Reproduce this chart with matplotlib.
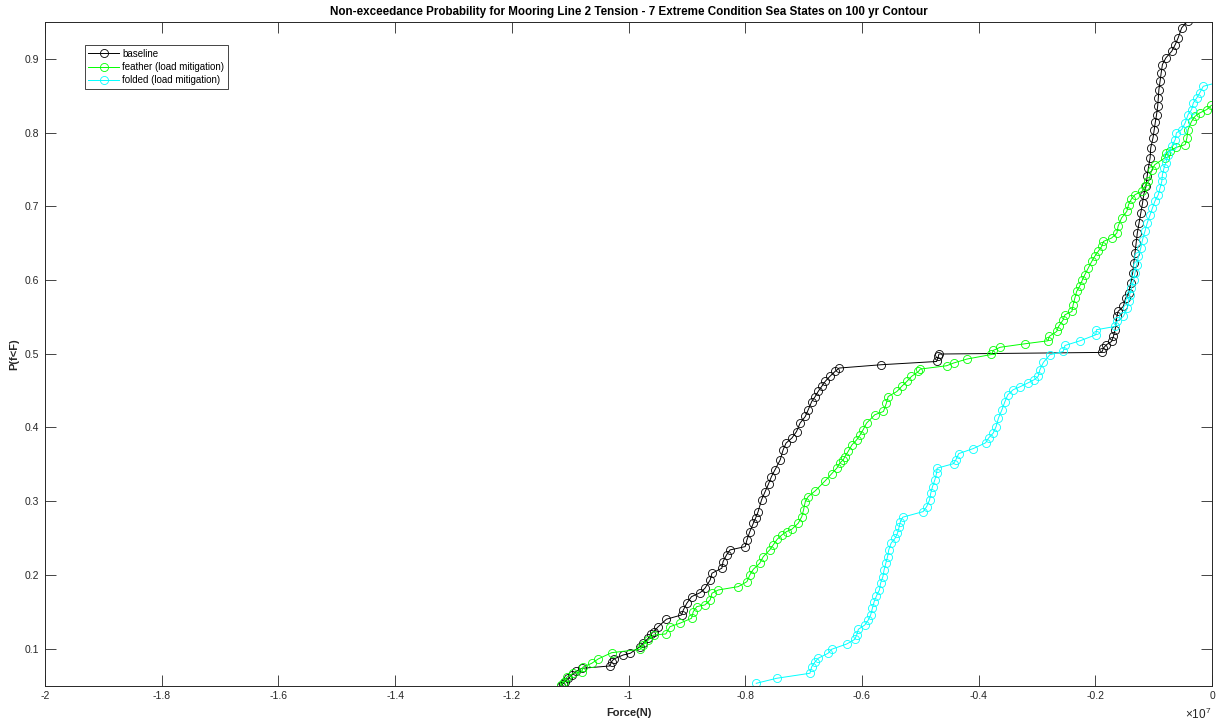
import numpy as np
import matplotlib
matplotlib.use('Agg')
import matplotlib.pyplot as plt
from matplotlib.ticker import FuncFormatter, MultipleLocator

plt.rcParams['font.family'] = ['Liberation Sans', 'DejaVu Sans']
plt.rcParams['axes.unicode_minus'] = False
plt.rcParams['mathtext.fontset'] = 'custom'
plt.rcParams['mathtext.rm'] = 'Liberation Sans'

# mooring line 2 tension (MN) and non-exceedance probability, per configuration
baseline_force = [-11.16, -11.12, -11.09, -11.03, -10.97, -10.90, -10.80, -10.32, -10.29, -10.25,
                  -10.09, -9.97, -9.80, -9.75, -9.66, -9.61, -9.57, -9.49, -9.35, -9.09,
                  -9.06, -9.00, -8.92, -8.77, -8.69, -8.60, -8.57, -8.40, -8.38, -8.32,
                  -8.26, -8.00, -7.97, -7.92, -7.86, -7.82, -7.78, -7.72, -7.66, -7.60,
                  -7.55, -7.49, -7.40, -7.35, -7.30, -7.20, -7.12, -7.06, -6.97, -6.92,
                  -6.86, -6.80, -6.75, -6.69, -6.63, -6.55, -6.46, -6.39, -5.67, -4.72,
                  -4.69, -4.68, -1.89, -1.86, -1.81, -1.72, -1.69, -1.66, -1.63, -1.61,
                  -1.52, -1.48, -1.43, -1.39, -1.36, -1.34, -1.32, -1.30, -1.28, -1.25,
                  -1.22, -1.19, -1.17, -1.13, -1.11, -1.09, -1.06, -1.05, -1.01, -0.99,
                  -0.97, -0.95, -0.93, -0.92, -0.91, -0.89, -0.87, -0.85, -0.79, -0.69,
                  -0.63, -0.58, -0.52, -0.41]
baseline_prob = [0.050, 0.0527, 0.0552, 0.0598, 0.0643, 0.0690, 0.0733, 0.0765, 0.0823, 0.0860,
                 0.0914, 0.0937, 0.1027, 0.1073, 0.1141, 0.1199, 0.1230, 0.1298, 0.1399, 0.1457,
                 0.1525, 0.1616, 0.1705, 0.1760, 0.1819, 0.1932, 0.2023, 0.2091, 0.2180, 0.2271,
                 0.2339, 0.2384, 0.2475, 0.2588, 0.2702, 0.2774, 0.2855, 0.3018, 0.3127, 0.3235,
                 0.3334, 0.3425, 0.3561, 0.3697, 0.3788, 0.3856, 0.3945, 0.4059, 0.4149, 0.4240,
                 0.4352, 0.4420, 0.4488, 0.4556, 0.4624, 0.4692, 0.4760, 0.4806, 0.4851, 0.4895,
                 0.4963, 0.4996, 0.5018, 0.5077, 0.5122, 0.5167, 0.5235, 0.5326, 0.5506, 0.5574,
                 0.5642, 0.5756, 0.5824, 0.5959, 0.6095, 0.6231, 0.6367, 0.6502, 0.6638, 0.6774,
                 0.6910, 0.7045, 0.7158, 0.7271, 0.7416, 0.7521, 0.7660, 0.7792, 0.7932, 0.8040,
                 0.8149, 0.8244, 0.8366, 0.8471, 0.8583, 0.8696, 0.8814, 0.8923, 0.9014, 0.9103,
                 0.9194, 0.9285, 0.9421, 0.9520]

feather_force = [-11.16, -11.11, -11.06, -10.95, -10.80, -10.78, -10.63, -10.52, -10.29, -9.80,
                 -9.75, -9.66, -9.57, -9.36, -9.29, -9.12, -8.92, -8.89, -8.83, -8.69,
                 -8.60, -8.57, -8.46, -8.12, -7.97, -7.92, -7.86, -7.75, -7.69, -7.58,
                 -7.52, -7.45, -7.37, -7.29, -7.20, -7.09, -7.03, -7.00, -6.97, -6.92,
                 -6.80, -6.63, -6.52, -6.43, -6.38, -6.32, -6.29, -6.23, -6.17, -6.09,
                 -6.03, -5.98, -5.92, -5.78, -5.63, -5.58, -5.55, -5.40, -5.32, -5.23,
                 -5.15, -5.03, -5.00, -4.55, -4.43, -4.20, -3.78, -3.75, -3.63, -3.20,
                 -2.81, -2.79, -2.66, -2.63, -2.55, -2.52, -2.40, -2.38, -2.35, -2.32,
                 -2.27, -2.22, -2.18, -2.12, -2.06, -2.01, -1.95, -1.89, -1.86, -1.72,
                 -1.63, -1.61, -1.55, -1.46, -1.43, -1.38, -1.32, -1.20, -1.15, -1.09,
                 -1.03, -0.98, -0.81, -0.78, -0.72, -0.61, -0.46, -0.43, -0.41, -0.35,
                 -0.29, -0.21, -0.09, -0.01]
feather_prob = [0.0507, 0.0552, 0.0611, 0.0666, 0.0683, 0.0751, 0.0801, 0.0860, 0.0945, 0.0991,
                0.1050, 0.1118, 0.1185, 0.1199, 0.1298, 0.1344, 0.1412, 0.1502, 0.1570, 0.1593,
                0.1661, 0.1752, 0.1796, 0.1841, 0.1909, 0.2000, 0.2077, 0.2159, 0.2248, 0.2339,
                0.2407, 0.2485, 0.2543, 0.2588, 0.2620, 0.2702, 0.2791, 0.2882, 0.2995, 0.3063,
                0.3140, 0.3276, 0.3371, 0.3448, 0.3516, 0.3561, 0.3606, 0.3683, 0.3765, 0.3832,
                0.3900, 0.3968, 0.4059, 0.4172, 0.4217, 0.4331, 0.4420, 0.4488, 0.4556, 0.4624,
                0.4692, 0.4760, 0.4792, 0.4837, 0.4874, 0.4928, 0.4990, 0.5045, 0.5088, 0.5136,
                0.5176, 0.5235, 0.5303, 0.5370, 0.5461, 0.5529, 0.5574, 0.5665, 0.5756, 0.5845,
                0.5913, 0.6004, 0.6072, 0.6163, 0.6253, 0.6321, 0.6389, 0.6456, 0.6524, 0.6570,
                0.6638, 0.6728, 0.6842, 0.6931, 0.7022, 0.7100, 0.7158, 0.7203, 0.7271, 0.7339,
                0.7497, 0.7565, 0.7656, 0.7724, 0.7755, 0.7800, 0.7837, 0.7928, 0.8040, 0.8153,
                0.8221, 0.8267, 0.8312, 0.8370]

folded_force = [-7.81, -7.46, -6.89, -6.86, -6.80, -6.75, -6.58, -6.52, -6.26, -6.12,
                -6.09, -6.06, -5.95, -5.89, -5.85, -5.82, -5.79, -5.75, -5.70, -5.68,
                -5.64, -5.62, -5.59, -5.56, -5.54, -5.50, -5.43, -5.39, -5.36, -5.34,
                -5.30, -4.95, -4.89, -4.84, -4.82, -4.79, -4.75, -4.72, -4.71, -4.43,
                -4.39, -4.34, -4.09, -3.88, -3.83, -3.75, -3.70, -3.66, -3.60, -3.55,
                -3.50, -3.41, -3.29, -3.15, -3.05, -2.98, -2.95, -2.89, -2.78, -2.55,
                -2.52, -2.26, -1.99, -1.98, -1.66, -1.63, -1.52, -1.45, -1.43, -1.41,
                -1.38, -1.34, -1.32, -1.29, -1.26, -1.22, -1.19, -1.15, -1.11, -1.06,
                -1.02, -0.98, -0.92, -0.89, -0.86, -0.85, -0.82, -0.79, -0.75, -0.69,
                -0.63, -0.61, -0.52, -0.46, -0.41, -0.35, -0.32, -0.26, -0.21, -0.15,
                0.22]
folded_prob = [0.0530, 0.0598, 0.0666, 0.0755, 0.0823, 0.0869, 0.0937, 0.0991, 0.1063, 0.1127,
               0.1185, 0.1263, 0.1321, 0.1389, 0.1457, 0.1548, 0.1638, 0.1715, 0.1796, 0.1887,
               0.1977, 0.2068, 0.2159, 0.2248, 0.2339, 0.2430, 0.2498, 0.2566, 0.2656, 0.2723,
               0.2783, 0.2859, 0.2927, 0.3018, 0.3109, 0.3198, 0.3289, 0.3380, 0.3448, 0.3509,
               0.3561, 0.3646, 0.3714, 0.3792, 0.3856, 0.3923, 0.4013, 0.4127, 0.4240, 0.4348,
               0.4443, 0.4511, 0.4552, 0.4606, 0.4647, 0.4692, 0.4783, 0.4882, 0.4986, 0.5031,
               0.5112, 0.5176, 0.5258, 0.5326, 0.5370, 0.5438, 0.5506, 0.5620, 0.5710, 0.5801,
               0.5892, 0.6004, 0.6095, 0.6208, 0.6321, 0.6435, 0.6547, 0.6660, 0.6774, 0.6887,
               0.6978, 0.7067, 0.7158, 0.7249, 0.7339, 0.7430, 0.7525, 0.7592, 0.7701, 0.7814,
               0.7905, 0.7996, 0.8040, 0.8131, 0.8244, 0.8312, 0.8403, 0.8471, 0.8539, 0.8628,
               0.8705]

series_labels = ['baseline', 'feather (load mitigation)', 'folded (load mitigation)']
series_colors = ['k', '#00ff00', '#00ffff']

axis_grey = '#262626'

fig = plt.figure(figsize=(12.17, 7.23), dpi=100)
ax = fig.add_axes([45 / 1217, 1 - 685.5 / 723, 1167 / 1217, 663.5 / 723])

forces = [baseline_force, feather_force, folded_force]
probs = [baseline_prob, feather_prob, folded_prob]
for f, p, lab, c in zip(forces, probs, series_labels, series_colors):
    ax.plot(np.array(f) * 1e6, p, '-o', color=c, lw=0.7, ms=5.8, mew=0.6,
            mfc='none', label=lab)

ax.set_xlim(-2e7, 0)
ax.set_ylim(0.05, 0.95)
ax.xaxis.set_major_locator(MultipleLocator(2e6))
ax.yaxis.set_major_locator(MultipleLocator(0.1))
ax.xaxis.set_major_formatter(FuncFormatter(lambda v, pos: '%g' % round(v / 1e7, 2)))
ax.yaxis.set_major_formatter(FuncFormatter(lambda v, pos: '%g' % round(v, 2)))

ax.tick_params(direction='in', length=8, width=0.6, colors=axis_grey, labelsize=7.5,
               top=True, right=True, pad=4)
for s in ax.spines.values():
    s.set_color(axis_grey)
    s.set_linewidth(0.7)

ax.set_title('Non-exceedance Probability for Mooring Line 2 Tension - 7 Extreme Condition Sea States on 100 yr Contour',
             fontsize=8.4, fontweight='bold', pad=5)
ax.set_xlabel('Force(N)', fontsize=8, fontweight='bold', color=axis_grey, labelpad=5)
ax.set_ylabel('P(f<F)', fontsize=8, fontweight='bold', color=axis_grey, labelpad=4)

# exponent of the force axis, under the last tick label
fig.text(1211 / 1217, 1 - 714 / 723, r'$\times10^{7}$', ha='right', va='center',
         fontsize=8.5, color=axis_grey)

leg = ax.legend(loc='upper left', bbox_to_anchor=(0.0343, 0.965), borderaxespad=0,
                fontsize=7, handlelength=3.1, handletextpad=0.4, labelspacing=0.35,
                borderpad=0.35, fancybox=False, framealpha=1)
leg.get_frame().set_edgecolor(axis_grey)
leg.get_frame().set_linewidth(0.6)

fig.savefig('out.png', dpi=100)
